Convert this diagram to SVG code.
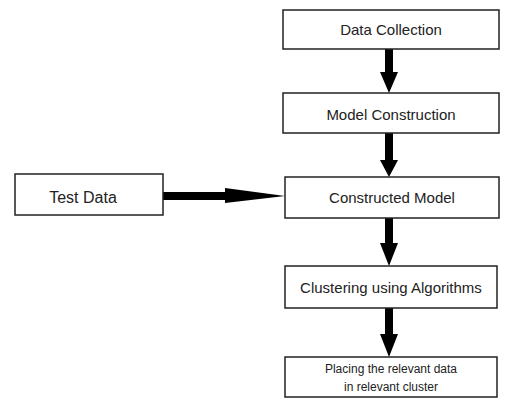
<svg xmlns="http://www.w3.org/2000/svg" width="507" height="399" viewBox="0 0 507 399">
<style>
.box{fill:#fff;stroke:#222;stroke-width:1.5}
.t{font-family:"Liberation Sans",Arial,sans-serif;font-size:15px;fill:#222;text-anchor:middle}
.s{font-size:12px}
.a{fill:#000}
</style>
<rect width="507" height="399" fill="#fff"/>
<g id="connectors">
<polygon class="a" points="385,49 393,49 393,72 398,72 389,93 380,72 385,72"/>
<polygon class="a" points="385,133 393,133 393,160 398,160 389,177 380,160 385,160"/>
<polygon class="a" points="385,218 393,218 393,243 398,243 389,266 380,243 385,243"/>
<polygon class="a" points="385,308 393,308 393,334 398,334 389,357 380,334 385,334"/>
<polygon class="a" points="163,192 225,192 225,188 285,196 225,203 225,200 163,200"/>
</g>
<g id="n1"><rect class="box" x="283" y="10" width="216" height="39"/><text class="t" x="391" y="35">Data Collection</text></g>
<g id="n2"><rect class="box" x="283" y="93" width="216" height="40"/><text class="t" x="391" y="120">Model Construction</text></g>
<g id="n3"><rect class="box" x="285" y="177" width="214" height="41"/><text class="t" x="392" y="203">Constructed Model</text></g>
<g id="n4"><rect class="box" x="285" y="266" width="212" height="42"/><text class="t" x="391" y="293">Clustering using Algorithms</text></g>
<g id="n5"><rect class="box" x="285" y="357" width="212" height="40"/><text class="t s" x="391" y="373">Placing the relevant data</text><text class="t s" x="391" y="391">in relevant cluster</text></g>
<g id="n0"><rect class="box" x="15" y="174" width="148" height="41"/><text class="t" x="83" y="203" style="font-size:16px">Test Data</text></g>
</svg>
